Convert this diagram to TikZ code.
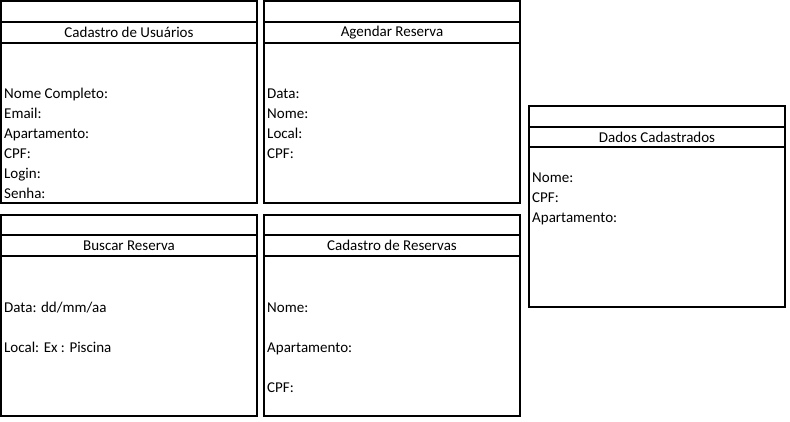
\documentclass[tikz,border=0pt]{standalone}
\usepackage{fontspec}
\setmainfont{Carlito}
\begin{document}
\begin{tikzpicture}[x=1pt,y=-1pt,
  frame/.style={draw,line width=2pt,inner sep=0pt,rectangle},
  ttl/.style={font=\fontsize{15}{17}\selectfont,inner sep=0pt},
  lbl/.style={font=\fontsize{15}{17}\selectfont,inner sep=0pt,anchor=base west}]
\useasboundingbox (0,0) rectangle (790,422);
% Box 1
\node[frame,minimum width=256pt,minimum height=21pt] (b1top) at (129,11.5) {};
\node[frame,minimum width=256pt,minimum height=21pt] (b1hd) at (129,32.5) {};
\node[frame,minimum width=256pt,minimum height=160pt] (b1) at (129,123) {};
\node[ttl] (t1) at (b1hd.center) {Cadastro de Usuários};
\node[lbl] (l11) at (4,99) {Nome Completo:};
\node[lbl] (l12) at (4,119) {Email:};
\node[lbl] (l13) at (4,139) {Apartamento:};
\node[lbl] (l14) at (4,159) {CPF:};
\node[lbl] (l15) at (4,179) {Login:};
\node[lbl] (l16) at (4,199) {Senha:};
% Box 2
\node[frame,minimum width=256pt,minimum height=21pt] (b2top) at (392,11.5) {};
\node[frame,minimum width=256pt,minimum height=21pt] (b2hd) at (392,32.5) {};
\node[frame,minimum width=256pt,minimum height=160pt] (b2) at (392,123) {};
\node[ttl] (t2) at (b2hd.center) {Agendar Reserva};
\node[lbl] (l21) at (267,99) {Data:};
\node[lbl] (l22) at (267,119) {Nome:};
\node[lbl] (l23) at (267,139) {Local:};
\node[lbl] (l24) at (267,159) {CPF:};
% Box 3
\node[frame,minimum width=256pt,minimum height=21pt] (b3top) at (657,116.5) {};
\node[frame,minimum width=256pt,minimum height=20pt] (b3hd) at (657,137) {};
\node[frame,minimum width=256pt,minimum height=160pt] (b3) at (657,227) {};
\node[ttl] (t3) at (b3hd.center) {Dados Cadastrados};
\node[lbl] (l31) at (532,183) {Nome:};
\node[lbl] (l32) at (532,203) {CPF:};
\node[lbl] (l33) at (532,223) {Apartamento:};
% Box 4
\node[frame,minimum width=256pt,minimum height=20pt] (b4top) at (129,225) {};
\node[frame,minimum width=256pt,minimum height=21pt] (b4hd) at (129,245.5) {};
\node[frame,minimum width=256pt,minimum height=160pt] (b4) at (129,336) {};
\node[ttl] (t4) at (b4hd.center) {Buscar Reserva};
\node[lbl] (l41) at (4,312) {Data: dd/mm/aa};
\node[lbl] (l42) at (4,352) {Local: Ex : Piscina};
% Box 5
\node[frame,minimum width=256pt,minimum height=20pt] (b5top) at (392,225) {};
\node[frame,minimum width=256pt,minimum height=21pt] (b5hd) at (392,245.5) {};
\node[frame,minimum width=256pt,minimum height=160pt] (b5) at (392,336) {};
\node[ttl] (t5) at (b5hd.center) {Cadastro de Reservas};
\node[lbl] (l51) at (267,312) {Nome:};
\node[lbl] (l52) at (267,352) {Apartamento:};
\node[lbl] (l53) at (267,392) {CPF:};
\end{tikzpicture}
\end{document}
